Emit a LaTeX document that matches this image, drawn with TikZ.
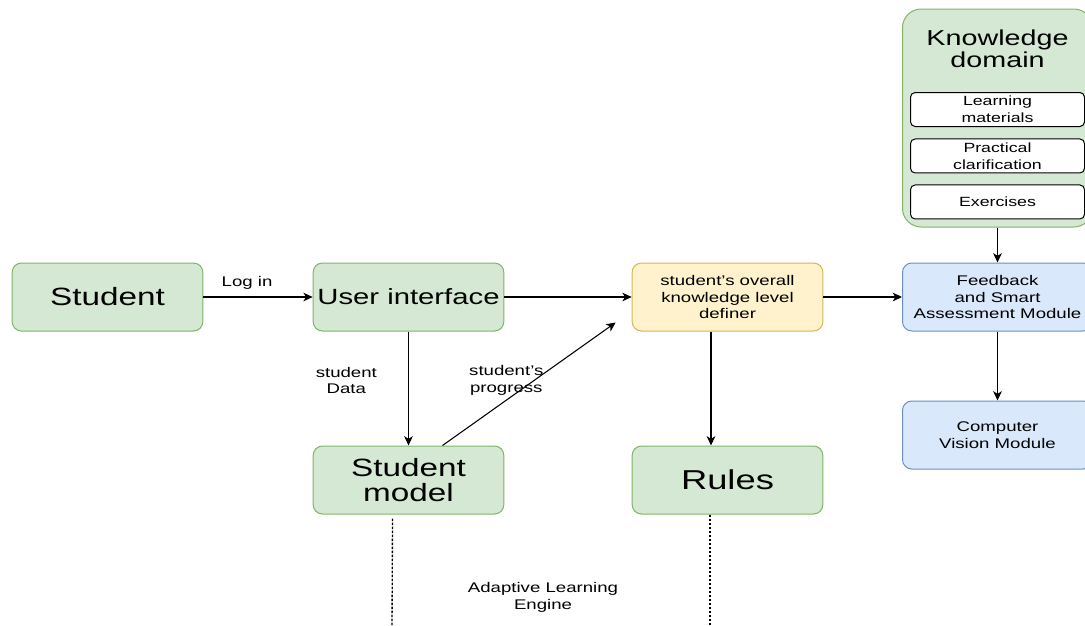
\documentclass[tikz,border=0pt]{standalone}
\usepackage{fontspec}
\setmainfont[FakeStretch=1.33]{Liberation Sans}
\usepackage{tikz}
\usetikzlibrary{arrows.meta,positioning,calc}
\usepackage{xcolor}
\definecolor{alegreen}{RGB}{213,232,212}
\definecolor{alegreenline}{RGB}{130,179,102}
\definecolor{aleyellow}{RGB}{255,242,204}
\definecolor{aleyellowline}{RGB}{214,182,86}
\definecolor{aleblue}{RGB}{218,232,252}
\definecolor{aleblueline}{RGB}{108,142,191}

\begin{document}
\begin{tikzpicture}[
      x=0.75pt,y=-0.75pt,
      box/.style={draw,rounded corners=7pt,line width=0.75pt,align=center,inner sep=1pt,minimum width=143pt,minimum height=51pt},
      gbox/.style={box,fill=alegreen,draw=alegreenline},
      ybox/.style={box,fill=aleyellow,draw=aleyellowline,font=\fontsize{10.5pt}{12.6pt}\selectfont},
      bbox/.style={box,fill=aleblue,draw=aleblueline,minimum width=142.5pt,font=\fontsize{10.5pt}{12.6pt}\selectfont},
      ibox/.style={draw,rounded corners=3.5pt,fill=white,line width=0.75pt,align=center,inner sep=1pt,minimum width=130.5pt,minimum height=25.5pt,font=\fontsize{10pt}{12.75pt}\selectfont},
      lbl/.style={align=center,font=\fontsize{10.5pt}{12.6pt}\selectfont},
      arr/.style={-{Stealth[length=7pt,width=6.5pt,inset=2pt]},line width=0.8pt},
      dots/.style={line width=1pt,dash pattern=on 2pt off 1pt}
    ]
    \useasboundingbox (0,0) rectangle (1085,625);

    \node[gbox,font=\fontsize{18.75pt}{19pt}\selectfont] (stud) at (107.5,297) {Student};
    \node[gbox,right=82pt of stud,font=\fontsize{16.5pt}{18pt}\selectfont] (ui) {User interface};
    \node[ybox,right=95.5pt of ui] (def) {student's overall\\knowledge level\\definer};
    \node[bbox,right=59pt of def] (fb) {Feedback\\and Smart\\Assessment Module};
    \node[bbox,below=51.75pt of fb] (cv) {Computer\\Vision Module};
    \node[gbox,below=85.5pt of ui,font=\fontsize{18.75pt}{19pt}\selectfont] (sm) {Student\\model};
    \node[gbox,below=85.5pt of def,font=\fontsize{20.5pt}{22pt}\selectfont] (rules) {Rules};

    % knowledge domain
    \node[gbox,rounded corners=14pt,minimum width=142.5pt,minimum height=163.5pt,above=26.25pt of fb] (kd) {};
    \node[align=center,font=\fontsize{16.2pt}{16.5pt}\selectfont] (kdt) at (kd.north |- 0,49) {Knowledge\\domain};
    \node[ibox] (lm) at (kd.north |- 0,109.5) {Learning\\materials};
    \node[ibox,below=8.6pt of lm] (pc) {Practical\\clarification};
    \node[ibox,below=8.25pt of pc] (ex) {Exercises};

    \draw[arr] (stud) -- node[lbl,pos=0.4,above=2pt]{Log in} (ui);
    \draw[arr] (ui) -- (def);
    \draw[arr] (def) -- (fb);
    \draw[arr] (kd) -- (fb);
    \draw[arr] (fb) -- (cv);
    \draw[arr] (ui) -- node[lbl,pos=0.43,left=20pt]{student\\Data} (sm);
    \draw[arr] ($(sm.north)+(34,0)$) -- node[lbl,pos=0.53,xshift=-21pt]{student's\\progress} ($(def.south west)+(-16,-9)$);
    \draw[arr] ($(def.south)+(-16.5,0)$) -- ($(rules.north)+(-16.5,0)$);

    \coordinate (smend) at (392,630);
    \coordinate (rlend) at (710,630);
    \draw[dots] ($(sm.south)+(-16,4)$) -- (smend);
    \draw[dots] ($(rules.south)+(-17.5,0)$) -- (rlend);
    \node[lbl] (ale) at (543,597) {Adaptive Learning\\Engine};
  \end{tikzpicture}
\end{document}
